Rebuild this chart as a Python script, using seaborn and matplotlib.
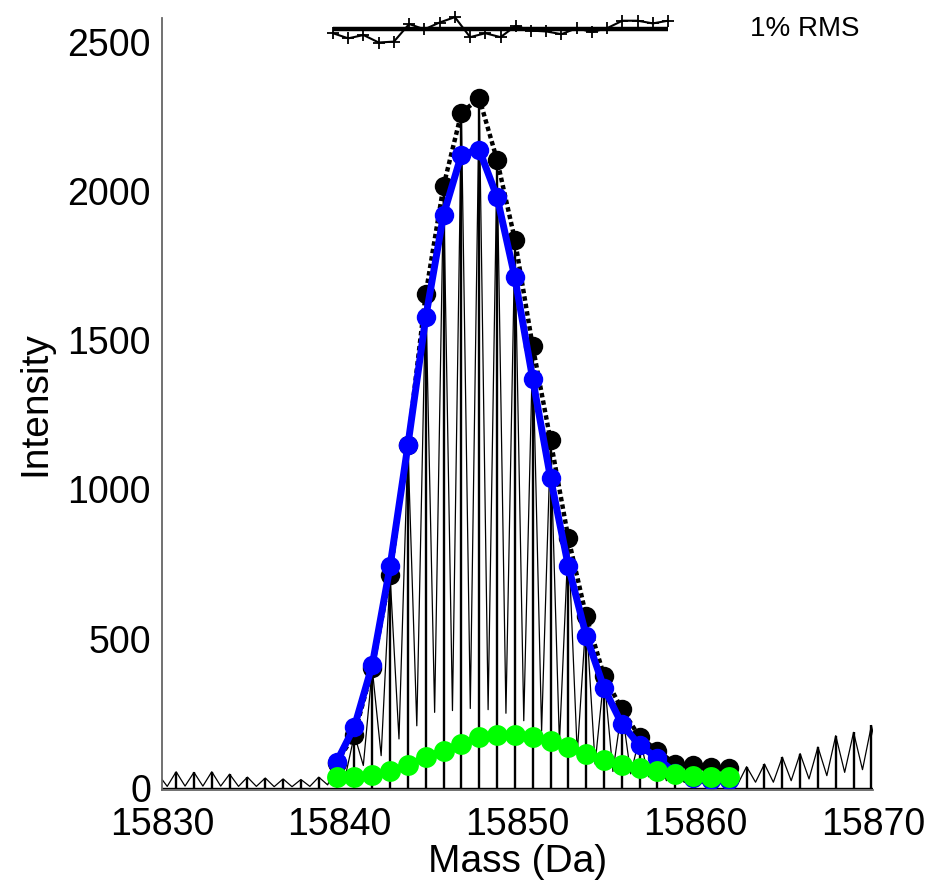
import numpy as np
import pandas as pd
import matplotlib
matplotlib.use("Agg")
import matplotlib.pyplot as plt
import seaborn as sns

# isotope grid: first peak sits just left of the axis, ~1.003 Da apart
first_peak = 15829.79
peak_spacing = 1.003

# profile peak tops left of the envelope (k = -10 .. -1)
left_peaks = [45, 54, 52, 54, 46, 36, 33, 30, 28, 36]
# measured peak heights, black dots (k = 0 .. 22)
measured = [85, 178, 400, 713, 1150, 1655, 2017, 2261, 2311, 2104, 1837, 1480,
            1165, 837, 576, 376, 264, 170, 125, 80, 77, 69, 67]
# profile peak tops right of the envelope (k = 23 .. 31)
right_peaks = [71, 80, 103, 115, 137, 175, 186, 209, 225]
# profile minima between neighbouring peaks
valleys = [5, 6, 6, 6, 5, 5, 4, 4, 5, 10,
           41, 75, 108, 164, 208, 253, 259, 266, 262, 250, 225, 190, 150, 115,
           80, 55, 47, 37, 24, 18, 14, 12, 12,
           19, 19, 24, 30, 41, 52, 61, 70]

# fitted total (blue) and minor component (green), k = 0 .. 22
fit_total = [87, 205, 412, 742, 1148, 1576, 1920, 2121, 2138, 1980, 1710, 1370,
             1038, 743, 510, 335, 214, 142, 100, 50, 32, 28, 28]
fit_minor = [35, 38, 42, 55, 77, 103, 125, 147, 170, 178, 178, 172, 157, 138,
             112, 92, 77, 66, 55, 46, 40, 38, 36]

# residual trace drawn at the top, relative to the 1% RMS bar
rms_level = 2541
rms_span = [15839.62, 15858.47]
resid = [-13, -30, -19, -44, -41, 18, 0, 23, 41, -26, -13, -26, 12, -4, -7,
         -16, 4, -9, 4, 29, 29, 20, 29]

all_peaks = left_peaks + measured + right_peaks
masses = first_peak + peak_spacing * np.arange(len(all_peaks))
k0 = len(left_peaks)
env_mass = masses[k0:k0 + len(measured)]

# zig-zag profile: peak, valley, peak, ...
prof_x, prof_y = [], []
for i, h in enumerate(all_peaks):
    prof_x.append(masses[i])
    prof_y.append(h)
    if i < len(valleys):
        prof_x.append(masses[i] + peak_spacing / 2)
        prof_y.append(valleys[i])
profile = pd.DataFrame({"mass": prof_x, "intensity": prof_y})

sns.set_theme(style="white")
plt.rcParams["font.family"] = ["Liberation Sans", "DejaVu Sans"]
plt.rcParams["text.color"] = "black"
plt.rcParams["axes.labelcolor"] = "black"
plt.rcParams["xtick.color"] = "black"
plt.rcParams["ytick.color"] = "black"

fig = plt.figure(figsize=(9.35, 8.88), dpi=100)
ax = fig.add_axes([0.1733, 0.1104, 0.7604, 0.8693])

sns.lineplot(data=profile, x="mass", y="intensity", sort=False, estimator=None,
             color="black", linewidth=0.9, ax=ax)
ax.vlines(masses, 0, all_peaks, color="black", linewidth=1.7)
ax.axhline(0, color="black", linewidth=1.0)

sns.lineplot(x=env_mass, y=measured, sort=False, estimator=None, color="black",
             linewidth=3.2, linestyle=(0, (1, 0.7)), marker="o", markersize=14,
             markeredgewidth=0, ax=ax)
sns.lineplot(x=env_mass, y=fit_total, sort=False, estimator=None, color="#0000ff",
             linewidth=5, marker="o", markersize=14, markeredgewidth=0, ax=ax)
sns.lineplot(x=env_mass, y=fit_minor, sort=False, estimator=None, color="#00ff00",
             linewidth=5, marker="o", markersize=15, markeredgewidth=0, ax=ax)

# residual trace + reference bar
resid_x = np.linspace(rms_span[0], rms_span[1], len(resid))
ax.plot(rms_span, [rms_level, rms_level], color="black", linewidth=3.2,
        clip_on=False, solid_capstyle="butt")
ax.plot(resid_x, rms_level + np.array(resid), color="black", linewidth=1.5,
        marker="+", markersize=8, markeredgewidth=1.3, clip_on=False)
ax.text(15863.1, rms_level, "1% RMS", fontsize=20, va="center", ha="left")

ax.set_xlim(15830, 15870)
ax.set_ylim(-7, 2579)
ax.set_xticks([15830, 15840, 15850, 15860, 15870])
ax.set_yticks([0, 500, 1000, 1500, 2000, 2500])
ax.ticklabel_format(useOffset=False, style="plain")
ax.tick_params(axis="x", direction="inout", length=8, width=1, color="0.35",
               labelcolor="black", labelsize=27, pad=8)
ax.tick_params(axis="y", direction="in", length=6, width=1, color="0.35",
               labelcolor="black", labelsize=27, pad=8)
for side in ["top", "right"]:
    ax.spines[side].set_visible(False)
for side in ["left", "bottom"]:
    ax.spines[side].set_color("0.4")
    ax.spines[side].set_linewidth(1.3)

ax.set_xlabel("Mass (Da)", fontsize=28, labelpad=1)
ax.set_ylabel("Intensity", fontsize=28, labelpad=10)

fig.savefig("out.png", dpi=100)
